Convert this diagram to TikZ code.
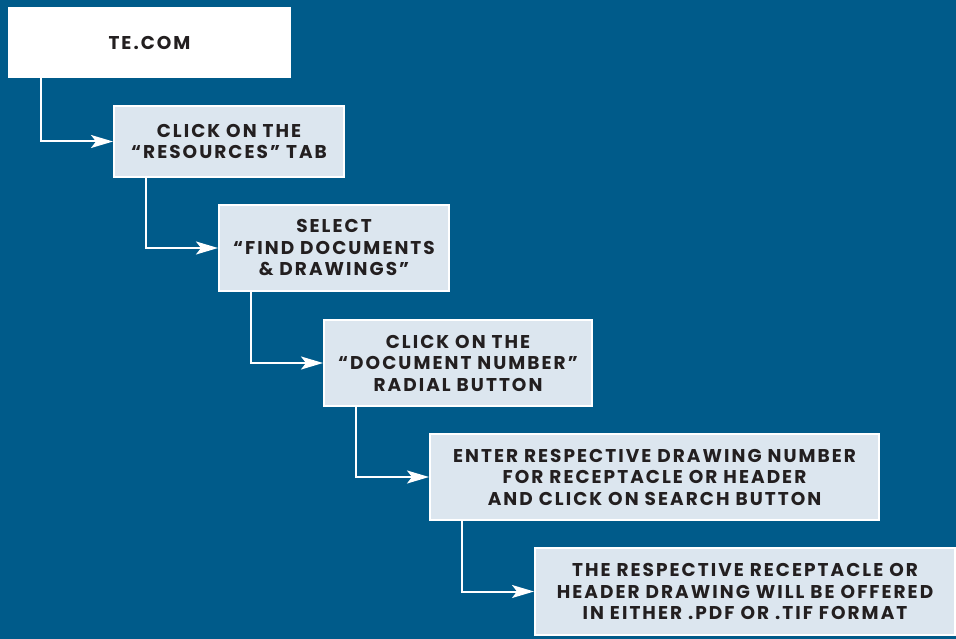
\documentclass[tikz,border=0pt]{standalone}
\usepackage{fontspec}
\setmainfont{Poppins}[LetterSpace=11]
\usetikzlibrary{arrows.meta}
\definecolor{bg}{RGB}{0,91,138}
\definecolor{boxfill}{RGB}{220,230,239}
\definecolor{ink}{RGB}{35,31,32}
\tikzset{
  stepbox/.style={draw=white, line width=2pt, fill=boxfill, rectangle, inner sep=0pt,
    align=center, text=ink, font=\fontsize{18.5}{21.5}\selectfont\bfseries},
  topbox/.style={fill=white, rectangle, inner sep=0pt, align=center, text=ink,
    font=\fontsize{18.5}{21.5}\selectfont\bfseries},
  conn/.style={draw=white, line width=2pt, -{Stealth[length=22pt,width=13pt,inset=5pt]}},
}
\begin{document}
\begin{tikzpicture}[x=1pt,y=1pt]
\fill[bg] (0,0) rectangle (956,-639);
\useasboundingbox (0,0) rectangle (956,-639);
\node[topbox, minimum width=283pt, minimum height=71pt] (b0) at (149.5,-42.5) {TE.COM};
\node[stepbox, minimum width=230pt, minimum height=71pt] (b1) at (229,-141.5) {CLICK ON THE\\“RESOURCES” TAB};
\node[stepbox, minimum width=230pt, minimum height=86pt] (b2) at (334,-248) {SELECT\\“FIND DOCUMENTS\\\& DRAWINGS”};
\node[stepbox, minimum width=268pt, minimum height=86pt] (b3) at (458,-363) {CLICK ON THE\\“DOCUMENT NUMBER”\\RADIAL BUTTON};
\node[stepbox, minimum width=449pt, minimum height=86pt] (b4) at (654.5,-477) {ENTER RESPECTIVE DRAWING NUMBER\\FOR RECEPTACLE OR HEADER\\AND CLICK ON SEARCH BUTTON};
\node[stepbox, minimum width=420pt, minimum height=87pt] (b5) at (745,-591.5) {THE RESPECTIVE RECEPTACLE OR\\HEADER DRAWING WILL BE OFFERED\\IN EITHER .PDF OR .TIF FORMAT};
\draw[conn] ([xshift=33pt]b0.south west) |- (b1.west);
\draw[conn] ([xshift=33pt]b1.south west) |- (b2.west);
\draw[conn] ([xshift=33pt]b2.south west) |- (b3.west);
\draw[conn] ([xshift=33pt]b3.south west) |- (b4.west);
\draw[conn] ([xshift=33pt]b4.south west) |- (b5.west);
\end{tikzpicture}
\end{document}
